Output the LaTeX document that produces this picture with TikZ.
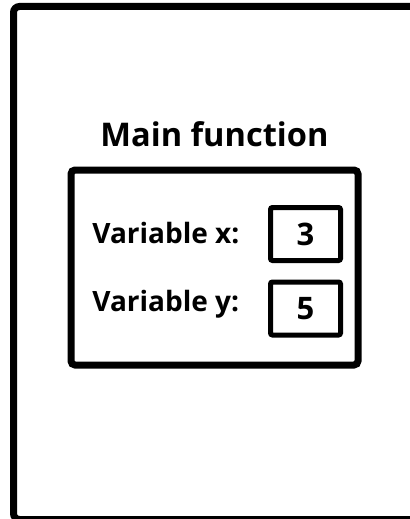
\documentclass[tikz,border=0pt]{standalone}
\usepackage{fontspec}
\setsansfont{Open Sans}
\usetikzlibrary{positioning}

\begin{document}
\begin{tikzpicture}[
    x=0.5pt, y=-0.5pt,
    outerframe/.style={
      draw=black,
      line width=3.5pt,
      rounded corners=3pt
    },
    scopebox/.style={
      rectangle,
      draw=black,
      line width=3.5pt,
      rounded corners=2pt,
      minimum width=143.5pt,
      minimum height=97.5pt,
      inner sep=0pt,
      outer sep=0pt
    },
    titletext/.style={
      font=\sffamily\bfseries\fontsize{16.3}{19}\selectfont,
      inner sep=0pt,
      outer sep=0pt
    },
    varlabel/.style={
      font=\sffamily\bfseries\fontsize{14}{16}\selectfont,
      inner sep=0pt,
      anchor=base west
    },
    valbox/.style={
      rectangle,
      draw=black,
      line width=2.5pt,
      rounded corners=1pt,
      minimum width=35pt,
      minimum height=26.5pt,
      inner sep=0pt,
      font=\sffamily\bfseries\fontsize{15.5}{17}\selectfont
    }
  ]

  % Page and frame
  \clip (0,0) rectangle (410,519);
  \draw [outerframe] (13.5,6.5) rectangle (420,519.5);

  % Nodes
  \node [scopebox] (main) at (214.5,267.5) {};
  \node [titletext, above=11.5pt of main] (mainname) {Main function};

  \node [varlabel] (labx) at (92,243) {Variable x:};
  \node [varlabel] (laby) at (92,311) {Variable y:};

  \node [valbox] (valx) at (305.5,234) {3};
  \node [valbox] (valy) at (305.5,308.5) {5};

\end{tikzpicture}
\end{document}
